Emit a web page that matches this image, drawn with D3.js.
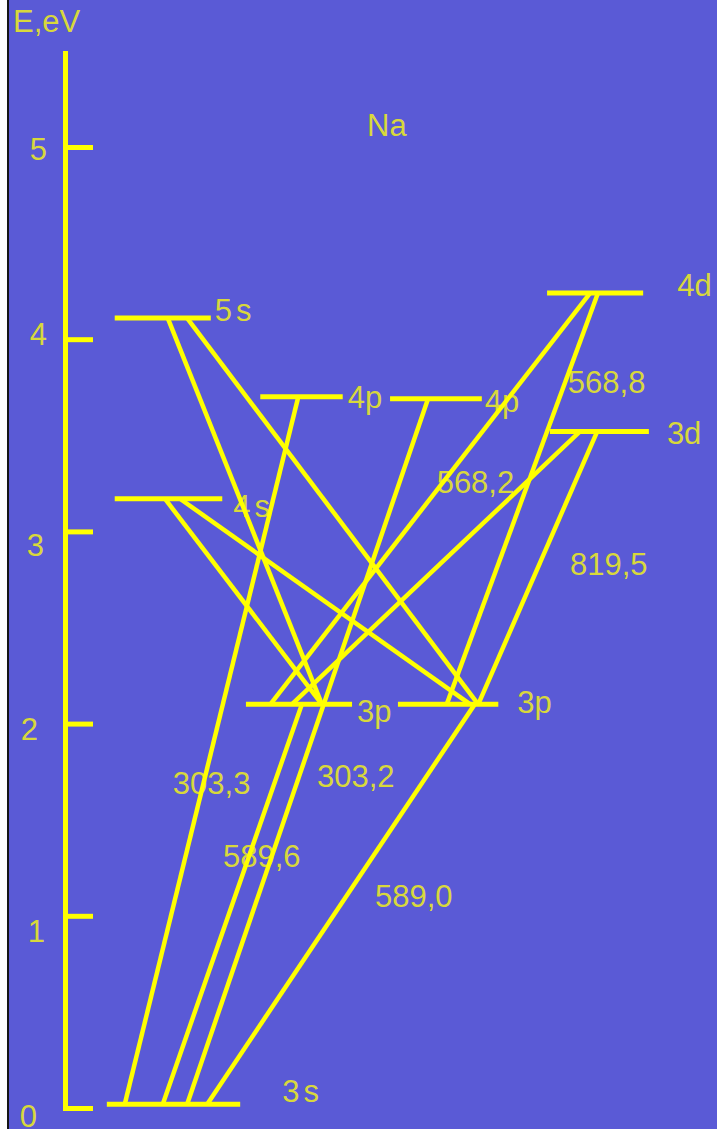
<!DOCTYPE html>
<html>
<head>
<meta charset="utf-8">
<script src="https://cdn.jsdelivr.net/npm/d3@7"></script>
<style>
  html, body { margin: 0; padding: 0; background: #ffffff; }
  svg { display: block; }
  text { font-family: "Liberation Sans", Arial, sans-serif; }
</style>
</head>
<body>
<svg id="chart" width="717" height="1129"></svg>
<script>
// Sodium energy levels (eV)
const levelNames  = ["3s", "3p", "3p", "4s", "5s", "4p", "4p", "3d", "4d"];
const levelEnergy = [0.02, 2.10, 2.10, 3.17, 4.11, 3.70, 3.69, 3.52, 4.24];
// horizontal extent of each level, in diagram column units (0..10 across)
const levelStart  = [1.49, 3.43, 5.55, 1.60, 1.60, 3.63, 5.44, 7.67, 7.63];
const levelEnd    = [3.35, 4.91, 6.95, 3.10, 2.94, 4.78, 6.72, 9.05, 8.97];

// transitions: upper level index -> lower level index, with attach points
const transFrom   = [4, 4, 3, 3, 5, 6, 1, 2, 8, 8, 7, 7];
const transFromX  = [2.34, 2.61, 2.30, 2.51, 4.16, 5.97, 4.21, 6.62, 8.23, 8.34, 8.09, 8.33];
const transTo     = [1, 2, 1, 2, 0, 0, 0, 0, 1, 2, 1, 2];
const transToX    = [4.49, 6.67, 4.49, 6.56, 1.74, 2.61, 2.27, 2.89, 3.77, 6.23, 4.07, 6.67];

// wavelength labels (nm)
const waveLabels  = ["303,3", "303,2", "589,6", "589,0", "568,2", "568,8", "819,5"];
const waveX       = [2.41, 4.42, 3.11, 5.23, 6.09, 7.92, 7.95];
const waveE       = [1.634, 1.670, 1.254, 1.046, 3.200, 3.720, 2.773];

// energy axis
const tickValues  = [0, 1, 2, 3, 4, 5];
const tickLabels  = ["0", "1", "2", "3", "4", "5"];

// ---- layout ----
const W = 717, H = 1129;
const AXIS_X = 65;
const YELLOW = "#ffff00", TEXT = "#d8d83c", BG = "#5a5ad6";
const FONT = 31;

// label nudges (px) for the level names and tick numbers
const levelLabelDx = [42, 5, 19, 11, 4, 5, 3, 18, 34];
const levelLabelDy = [-2, 18, 9, 18, 3, 11, 13, 13, 3];
const tickLabelRight = [37, 45, 38, 44, 47, 47];
const tickLabelDy    = [19, 26, 16, 25, 6, 13];

const svg = d3.select("#chart");
const x = d3.scaleLinear().domain([0, 10]).range([0, W]);
const y = d3.scaleLinear().domain([0, 5.489]).range([1108, 53]);

// background and left frame edge
svg.append("rect").attr("x", 9).attr("y", 0).attr("width", W - 9).attr("height", H).attr("fill", BG);
svg.append("line").attr("x1", 8).attr("x2", 8).attr("y1", 0).attr("y2", H)
  .attr("stroke", "#151515").attr("stroke-width", 2);

// ---- texts (drawn beneath the lines) ----
const txt = svg.append("g").attr("fill", TEXT).attr("font-size", FONT);

txt.append("text").attr("x", 13).attr("y", y(5.598)).text("E,eV");
txt.append("text").attr("x", 367).attr("y", y(5.057)).text("Na");

txt.selectAll("text.tick").data(tickValues).join("text")
  .attr("class", "tick")
  .attr("text-anchor", "end")
  .attr("x", (d, i) => tickLabelRight[i])
  .attr("y", (d, i) => y(d) + tickLabelDy[i])
  .text((d, i) => tickLabels[i]);

txt.selectAll("text.lvl").data(levelNames).join("text")
  .attr("class", "lvl")
  .attr("x", (d, i) => x(levelEnd[i]) + levelLabelDx[i])
  .attr("y", (d, i) => y(levelEnergy[i]) + levelLabelDy[i])
  .attr("letter-spacing", d => d.endsWith("s") ? 4 : 0)
  .text(d => d);

txt.selectAll("text.wave").data(waveLabels).join("text")
  .attr("class", "wave")
  .attr("x", (d, i) => x(waveX[i]))
  .attr("y", (d, i) => y(waveE[i]))
  .text(d => d);

// ---- energy axis ----
const axis = svg.append("g")
  .attr("transform", `translate(${AXIS_X},0)`)
  .call(d3.axisRight(y).tickValues(tickValues).tickSize(28).tickSizeOuter(0).tickFormat(""));
axis.select(".domain").attr("stroke", YELLOW).attr("stroke-width", 5).attr("stroke-linecap", "square");
axis.selectAll(".tick line").attr("stroke", YELLOW).attr("stroke-width", 5);

// ---- levels ----
const lines = svg.append("g").attr("stroke", YELLOW).attr("fill", "none");
lines.selectAll("line.level").data(levelNames).join("line")
  .attr("class", "level")
  .attr("x1", (d, i) => x(levelStart[i]))
  .attr("x2", (d, i) => x(levelEnd[i]))
  .attr("y1", (d, i) => y(levelEnergy[i]))
  .attr("y2", (d, i) => y(levelEnergy[i]))
  .attr("stroke-width", 5);

// ---- transitions ----
lines.selectAll("line.trans").data(transFrom).join("line")
  .attr("class", "trans")
  .attr("x1", (d, i) => x(transFromX[i]))
  .attr("y1", (d, i) => y(levelEnergy[transFrom[i]]))
  .attr("x2", (d, i) => x(transToX[i]))
  .attr("y2", (d, i) => y(levelEnergy[transTo[i]]))
  .attr("stroke-width", 4.5);
</script>
</body>
</html>
